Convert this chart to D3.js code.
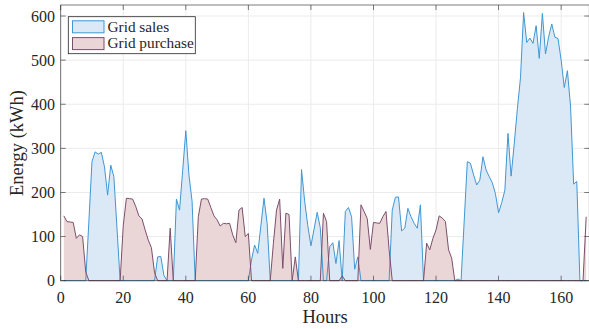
<!DOCTYPE html>
<html><head><meta charset="utf-8">
<script src="https://cdn.jsdelivr.net/npm/d3@7/dist/d3.min.js"></script>
<style>body{margin:0;background:#fff}svg{display:block}text{font-family:"Liberation Serif","Times New Roman",serif;fill:#262626}</style>
</head><body><svg id="c" width="589" height="329"></svg>
<script>
// Hours 1..168
const hours = d3.range(1, 169);
const gridSales = [
0,0,0,0,0,0,0,0,133,270, 292,287,291,258,194,262,236,118,0,0,
0,0,0,0,0,0,0,0,0,0, 54,55,12,0,0,0,185,160,250,340,
240,180,0,0,0,0,0,0,0,0, 0,0,0,0,0,0,0,0,0,0,
47,81,62,125,187,130,0,0,0,0, 0,0,0,0,0,0,252,180,125,79,
117,155,120,0,0,77,86,39,91,0, 157,166,145,26,54,0,0,0,0,0,
0,0,0,0,0,160,189,190,113,119, 164,145,130,119,172,0,0,0,0,0,
0,0,0,0,0,0,4,0,135,270, 266,240,217,228,281,251,236,222,197,154,
177,205,334,237,310,390,460,608,540,550, 538,578,504,606,514,553,582,552,549,500,
438,476,396,219,225,0,0,0
];
const gridPurchase = [
147,134,133,132,96,104,100,20,0,0, 0,0,0,0,0,0,0,0,0,125,
187,186,185,168,147,140,115,92,75,18, 0,0,0,0,119,0,0,0,0,0,
0,0,0,145,185,186,185,166,147,138, 124,130,129,130,104,86,160,166,100,107,
0,0,0,0,0,0,0,85,160,185, 28,153,150,0,54,0,0,0,0,0,
0,0,0,153,134,0,0,0,0,11, 0,0,0,0,0,172,157,141,71,132,
131,130,145,157,70,0,0,0,0,0, 0,0,0,0,0,0,85,70,96,115,
147,142,134,70,51,0,0,0,0,0, 0,0,0,0,0,0,0,0,0,0,
0,0,0,0,0,0,0,0,0,0, 0,0,0,0,0,0,0,0,0,0,
0,0,0,0,0,0,0,145
];
const xTicks = [0,20,40,60,80,100,120,140,160];
const yTicks = [0,100,200,300,400,500,600];
const seriesNames = ["Grid sales","Grid purchase"];

const svg = d3.select("#c");
const L = 60.7, R = 589.3, T = 5, B = 280.7;
const x = d3.scaleLinear().domain([0,169]).range([L,R]);
const y = d3.scaleLinear().domain([0,625]).range([B,T]);

// grid
const g = svg.append("g");
g.selectAll(".gx").data(xTicks).join("line")
 .attr("x1",d=>x(d)).attr("x2",d=>x(d)).attr("y1",T).attr("y2",B)
 .attr("stroke","#ebebeb").attr("stroke-width",1);
g.selectAll(".gy").data(yTicks).join("line")
 .attr("y1",d=>y(d)).attr("y2",d=>y(d)).attr("x1",L).attr("x2",R)
 .attr("stroke","#ebebeb").attr("stroke-width",1);

const styles = [
 {fill:"#dbe9f7", stroke:"#3f97d3", data:gridSales},
 {fill:"#ebd6d7", stroke:"#7b4f6c", data:gridPurchase}
];
styles.forEach(s=>{
  const pts = hours.map((h,i)=>[h,s.data[i]]);
  svg.append("path").datum(pts)
    .attr("d", d3.area().x(d=>x(d[0])).y0(y(0)).y1(d=>y(d[1])))
    .attr("fill", s.fill);
});
styles.forEach(s=>{
  const pts = hours.map((h,i)=>[h,s.data[i]]);
  svg.append("path").datum(pts)
    .attr("d", d3.line().x(d=>x(d[0])).y(d=>y(d[1])))
    .attr("fill","none").attr("stroke", s.stroke).attr("stroke-width",1);
});

// axes box
const ax = "#262626";
svg.append("rect").attr("x",L).attr("y",T).attr("width",R-L).attr("height",B-T)
 .attr("fill","none").attr("stroke",ax).attr("stroke-width",0.8).attr("opacity",0.75);
const tl = 5;
xTicks.forEach(t=>{
  svg.append("line").attr("x1",x(t)).attr("x2",x(t)).attr("y1",B).attr("y2",B-tl).attr("stroke",ax).attr("stroke-width",0.8).attr("opacity",0.75);
  svg.append("line").attr("x1",x(t)).attr("x2",x(t)).attr("y1",T).attr("y2",T+tl).attr("stroke",ax).attr("stroke-width",0.8).attr("opacity",0.75);
  svg.append("text").attr("x",x(t)).attr("y",303).attr("text-anchor","middle").attr("font-size",16).text(t);
});
yTicks.forEach(t=>{
  svg.append("line").attr("x1",L).attr("x2",L+tl).attr("y1",y(t)).attr("y2",y(t)).attr("stroke",ax).attr("stroke-width",0.8).attr("opacity",0.75);
  svg.append("line").attr("x1",R).attr("x2",R-tl).attr("y1",y(t)).attr("y2",y(t)).attr("stroke",ax).attr("stroke-width",0.8).attr("opacity",0.75);
  svg.append("text").attr("x",55).attr("y",y(t)+5.5).attr("text-anchor","end").attr("font-size",16).text(t);
});

svg.append("text").attr("x",325).attr("y",323).attr("text-anchor","middle").attr("font-size",18.5).text("Hours");
svg.append("text").attr("transform","translate(23,143) rotate(-90)").attr("text-anchor","middle").attr("font-size",18.5).text("Energy (kWh)");

// legend
const lg = svg.append("g");
lg.append("rect").attr("x",68.3).attr("y",16.7).attr("width",127).attr("height",37)
  .attr("fill","#fff").attr("stroke","#262626").attr("stroke-width",0.8).attr("opacity",1);
styles.forEach((s,i)=>{
  lg.append("rect").attr("x",72.5).attr("y",20.8+i*16.8).attr("width",31.5).attr("height",12)
    .attr("fill",s.fill).attr("stroke",s.stroke).attr("stroke-width",1);
  lg.append("text").attr("x",107.5).attr("y",31.5+i*16.8).attr("font-size",15.3).text(seriesNames[i]);
});
</script></body></html>
